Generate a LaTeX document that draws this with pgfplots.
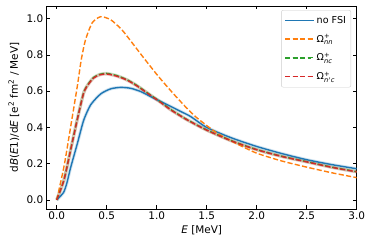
\documentclass[border=0pt]{standalone}
\usepackage{fontspec}
\setmainfont{DejaVu Sans}
\usepackage{amsmath}
\usepackage{pgfplots}
\pgfplotsset{compat=1.18}
\definecolor{tblue}{HTML}{1F77B4}
\definecolor{torange}{HTML}{FF7F0E}
\definecolor{tgreen}{HTML}{2CA02C}
\definecolor{tred}{HTML}{D62728}
\pgfplotstableread{
E v
0 0
0.067 0.04
0.1 0.09
0.14 0.18
0.206 0.31
0.27 0.44
0.34 0.525
0.44 0.585
0.54 0.613
0.64 0.621
0.74 0.616
0.84 0.598
0.94 0.570
1.04 0.543
1.14 0.516
1.24 0.488
1.34 0.460
1.5 0.40
1.75 0.342
2.0 0.295
2.25 0.256
2.5 0.222
2.75 0.195
3.0 0.172
}\blue
\pgfplotstableread{
E v
0 0
0.073 0.185
0.14 0.405
0.206 0.627
0.246 0.775
0.289 0.885
0.356 0.978
0.44 1.011
0.54 0.994
0.65 0.94
0.75 0.87
0.85 0.798
1.0 0.693
1.1 0.628
1.2 0.566
1.3 0.507
1.4 0.454
1.6 0.37
1.8 0.31
2.0 0.258
2.25 0.215
2.5 0.181
2.75 0.15
3.0 0.123
}\orange
\pgfplotstableread{
E v
0 0
0.073 0.112
0.14 0.279
0.206 0.446
0.27 0.593
0.32 0.643
0.37 0.676
0.43 0.693
0.5 0.698
0.6 0.686
0.7 0.664
0.8 0.632
0.94 0.578
1.04 0.540
1.14 0.499
1.3 0.444
1.5 0.386
1.75 0.326
2.0 0.278
2.25 0.241
2.5 0.211
2.75 0.181
3.0 0.156
}\green
\pgfplotstableread{
E v
0 0
0.073 0.11
0.14 0.277
0.206 0.443
0.27 0.59
0.32 0.64
0.37 0.673
0.43 0.69
0.5 0.695
0.6 0.683
0.7 0.662
0.8 0.630
0.94 0.576
1.04 0.538
1.14 0.497
1.3 0.443
1.5 0.385
1.75 0.325
2.0 0.277
2.25 0.24
2.5 0.210
2.75 0.18
3.0 0.155
}\red
\begin{document}
\begin{tikzpicture}
\begin{axis}[
  at={(0,0)}, anchor=south west,
  scale only axis,
  width=310bp, height=203bp,
  xmin=-0.1, xmax=3.0, ymin=-0.05, ymax=1.07,
  xtick={0,0.5,...,3.0}, ytick={0,0.2,...,1.0},
  tick align=inside,
  major tick length=3.5bp,
  tick style={black, line width=0.6pt},
  axis line style={black, line width=0.6pt},
  /pgf/number format/.cd, fixed, fixed zerofill, precision=1, assume math mode=true,
  /pgfplots/.cd,
  ticklabel style={font=\fontsize{10.5}{12}\selectfont},
  xticklabel style={yshift=1bp},
  xlabel={\textit{E} [MeV]},
  ylabel={d\textit{B}(\textit{E}1)/d\textit{E} [e\textsuperscript{2} fm\textsuperscript{2} / MeV]},
  label style={font=\fontsize{10.5}{12}\selectfont},
  xlabel style={at={(axis description cs:0.5,0)}, anchor=north, yshift=-13bp},
  ylabel style={at={(axis description cs:0,0.5)}, anchor=south, yshift=24bp},
  legend style={at={(rel axis cs:0.982,0.98)}, anchor=north east,
    draw=black!20, rounded corners=2pt, fill=white,
    font=\fontsize{9.6}{11}\selectfont, row sep=5.5bp, inner xsep=3bp, inner ysep=4bp},
  legend cell align=left,
  legend image code/.code={\draw[#1, line width=1.5bp] (0bp,0bp) -- (25.5bp,0bp); \path (0bp,0bp) -- (29bp,0bp);},
  clip=true,
]
% uncertainty bands
\addplot[tblue, opacity=0.2, line width=3.2bp, smooth, tension=0.4, forget plot] table[x=E,y=v] {\blue};
\addplot[tgreen, opacity=0.22, line width=3.2bp, smooth, tension=0.4, forget plot] table[x=E,y=v] {\green};
\addplot[tred, opacity=0.22, line width=3.2bp, smooth, tension=0.4, forget plot] table[x=E,y=v] {\red};
% curves
\addplot[tblue, line width=1.4bp, smooth, tension=0.4] table[x=E,y=v] {\blue};
\addlegendentry{no FSI}
\addplot[torange, line width=1.4bp, dash pattern=on 5.2bp off 2.3bp, smooth, tension=0.4] table[x=E,y=v] {\orange};
\addlegendentry{Ω$^{\text{+}}_{\textit{nn}}$}
\addplot[tgreen, line width=1.4bp, dash pattern=on 5.2bp off 2.3bp, smooth, tension=0.4] table[x=E,y=v] {\green};
\addlegendentry{Ω$^{\text{+}}_{\textit{nc}}$}
\addplot[tred, line width=1.4bp, dash pattern=on 5.2bp off 2.3bp, smooth, tension=0.4] table[x=E,y=v] {\red};
\addlegendentry{Ω$^{\text{+}}_{\textit{n}'\textit{c}}$}
\end{axis}
\path (-46.7bp,-37bp) rectangle (327.3bp,209bp);
\end{tikzpicture}
\end{document}
